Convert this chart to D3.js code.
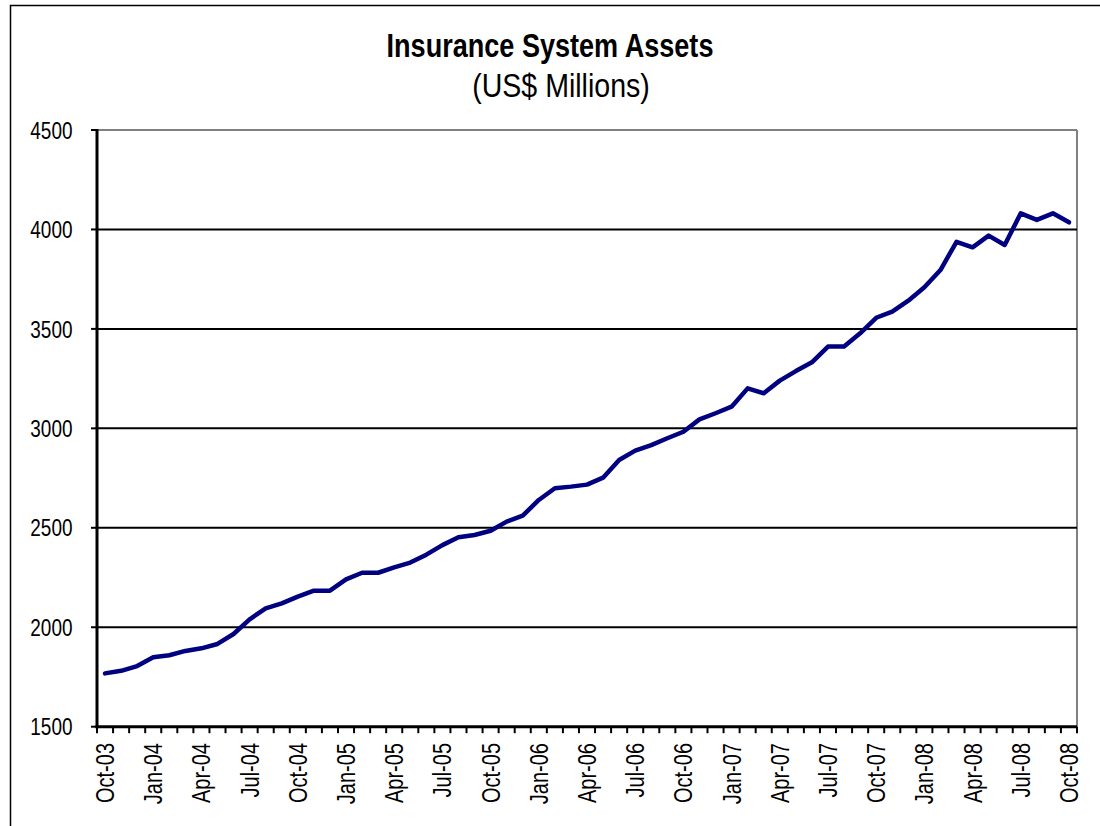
<!DOCTYPE html>
<html>
<head>
<meta charset="utf-8">
<script src="https://cdn.jsdelivr.net/npm/d3@7"></script>
<style>
  html, body { margin: 0; padding: 0; background: #fff; }
  svg { display: block; }
</style>
</head>
<body>
<svg id="chart" width="1100" height="826"></svg>
<script>
const titleText = "Insurance System Assets";
const subtitleText = "(US$ Millions)";

const categories = [
  "Oct-03","Nov-03","Dec-03","Jan-04","Feb-04","Mar-04","Apr-04","May-04","Jun-04","Jul-04",
  "Aug-04","Sep-04","Oct-04","Nov-04","Dec-04","Jan-05","Feb-05","Mar-05","Apr-05","May-05",
  "Jun-05","Jul-05","Aug-05","Sep-05","Oct-05","Nov-05","Dec-05","Jan-06","Feb-06","Mar-06",
  "Apr-06","May-06","Jun-06","Jul-06","Aug-06","Sep-06","Oct-06","Nov-06","Dec-06","Jan-07",
  "Feb-07","Mar-07","Apr-07","May-07","Jun-07","Jul-07","Aug-07","Sep-07","Oct-07","Nov-07",
  "Dec-07","Jan-08","Feb-08","Mar-08","Apr-08","May-08","Jun-08","Jul-08","Aug-08","Sep-08",
  "Oct-08"
];

const assets = [
  1768, 1781, 1805, 1849, 1859, 1881, 1894, 1916, 1966, 2040,
  2095, 2120, 2154, 2184, 2184, 2241, 2274, 2274, 2301, 2325,
  2365, 2413, 2452, 2464, 2485, 2531, 2561, 2640, 2699, 2707,
  2717, 2752, 2841, 2888, 2916, 2950, 2983, 3045, 3076, 3109,
  3201, 3176, 3240, 3288, 3332, 3411, 3411, 3478, 3556, 3587,
  3642, 3709, 3796, 3938, 3910, 3969, 3922, 4081, 4048, 4081,
  4036
];

const xTickLabels = [
  "Oct-03","Jan-04","Apr-04","Jul-04","Oct-04","Jan-05","Apr-05","Jul-05","Oct-05","Jan-06",
  "Apr-06","Jul-06","Oct-06","Jan-07","Apr-07","Jul-07","Oct-07","Jan-08","Apr-08","Jul-08","Oct-08"
];
const yTickValues = [1500, 2000, 2500, 3000, 3500, 4000, 4500];

const svg = d3.select("#chart");

// font detection: Liberation Sans Narrow if installed, else squeeze Liberation Sans
function measure(family, weight) {
  const t = svg.append("text").attr("x", -1000).attr("y", -1000)
    .style("font-family", family).style("font-size", "40px").style("font-weight", weight || "normal")
    .text("Insurance System Assets 0123456789");
  const w = t.node().getComputedTextLength();
  t.remove();
  return w;
}
const hasNarrow = Math.abs(measure("'Liberation Sans Narrow', monospace") - measure("monospace")) > 1;
const FAMILY = hasNarrow ? "'Liberation Sans Narrow', 'Arial Narrow', sans-serif" : "'Liberation Sans', Arial, sans-serif";
function styleText(sel, size, weight, squeeze) {
  sel.style("font-family", FAMILY).style("font-size", size + "px")
     .style("font-weight", weight || "normal").attr("fill", "#000");
  if (!hasNarrow) {
    const k = squeeze || 0.82;
    sel.each(function () {
      const len = this.getComputedTextLength();
      d3.select(this).attr("textLength", len * k).attr("lengthAdjust", "spacingAndGlyphs");
    });
  }
  return sel;
}

const plot = { left: 97, right: 1077, top: 130, bottom: 726.7 };

const x = d3.scaleBand().domain(categories).range([plot.left, plot.right]).paddingInner(0).paddingOuter(0);
const y = d3.scaleLinear().domain([1500, 4500]).range([plot.bottom, plot.top]);
const cx = c => x(c) + x.bandwidth() / 2;

// outer chart border
svg.append("rect").attr("x", 10.5).attr("y", 5.5).attr("width", 1200).attr("height", 900)
  .attr("fill", "#fff").attr("stroke", "#000").attr("stroke-width", 1.5);

// titles
styleText(svg.append("text").attr("x", 550).attr("y", 57).attr("text-anchor", "middle").text(titleText), 33, "bold", 0.82);
styleText(svg.append("text").attr("x", 561).attr("y", 97).attr("text-anchor", "middle").text(subtitleText), 34, "normal", 0.84);

// plot frame (gray top/right)
svg.append("line").attr("x1", plot.left).attr("x2", plot.right).attr("y1", y(4500)).attr("y2", y(4500))
  .attr("stroke", "#808080").attr("stroke-width", 2);
svg.append("line").attr("x1", plot.right).attr("x2", plot.right).attr("y1", y(4500)).attr("y2", y(1500))
  .attr("stroke", "#808080").attr("stroke-width", 2);

// gridlines
svg.append("g").selectAll("line").data(yTickValues.filter(v => v > 1500 && v < 4500)).join("line")
  .attr("x1", plot.left).attr("x2", plot.right).attr("y1", d => y(d)).attr("y2", d => y(d))
  .attr("stroke", "#000").attr("stroke-width", 2);

// y axis
svg.append("line").attr("x1", plot.left).attr("x2", plot.left).attr("y1", y(4500) - 1).attr("y2", y(1500) + 1.5)
  .attr("stroke", "#000").attr("stroke-width", 3);
svg.append("g").selectAll("line").data(yTickValues).join("line")
  .attr("x1", plot.left - 6).attr("x2", plot.left).attr("y1", d => y(d)).attr("y2", d => y(d))
  .attr("stroke", "#000").attr("stroke-width", 2);
styleText(svg.append("g").selectAll("text").data(yTickValues).join("text")
  .attr("x", 72.5).attr("y", d => y(d)).attr("dy", "0.36em").attr("text-anchor", "end").text(d => d), 24, "normal", 0.79);

// x axis
svg.append("line").attr("x1", plot.left - 1.5).attr("x2", plot.right).attr("y1", y(1500)).attr("y2", y(1500))
  .attr("stroke", "#000").attr("stroke-width", 3);
const boundaries = categories.map(c => x(c)).concat([plot.right]);
svg.append("g").selectAll("line").data(boundaries).join("line")
  .attr("x1", d => d).attr("x2", d => d).attr("y1", y(1500)).attr("y2", y(1500) + 6.5)
  .attr("stroke", "#000").attr("stroke-width", 2);
styleText(svg.append("g").selectAll("text").data(xTickLabels).join("text")
  .attr("transform", d => `translate(${cx(d)},743) rotate(-90)`)
  .attr("dy", "0.36em").attr("text-anchor", "end").text(d => d), 25, "normal", 0.8);

// line
const line = d3.line().x((d, i) => cx(categories[i])).y(d => y(d));
svg.append("path").datum(assets).attr("d", line).attr("fill", "none")
  .attr("stroke", "#000080").attr("stroke-width", 4.5).attr("stroke-linejoin", "round").attr("stroke-linecap", "round");
</script>
</body>
</html>
